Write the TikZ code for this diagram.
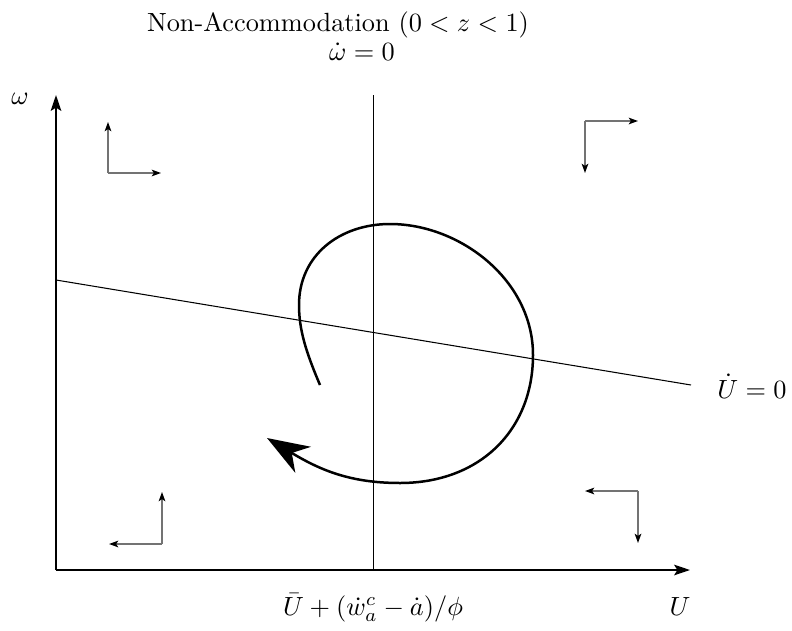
\documentclass[tikz,border=0pt]{standalone}
\usetikzlibrary{arrows.meta}
\begin{document}
\begin{tikzpicture}[x=0.38pt,y=-0.38pt,
  axis/.style={line width=0.8pt,-{Stealth[length=6pt,width=4pt,inset=1.2pt]}},
  thinline/.style={line width=0.4pt},
  flow/.style={draw=black!55,line width=0.55pt,-{Stealth[length=3.5pt,width=2.5pt,inset=0.8pt,color=black]}},
  orbit/.style={line width=0.95pt,-{Stealth[length=16pt,width=11.5pt,inset=5pt]}},
  lbl/.style={inner sep=0pt,anchor=base}]
\useasboundingbox (0,0) rectangle (792,630);
% axes
\coordinate (O) at (56,570);
\coordinate (Ytop) at (56,95);
\coordinate (Xend) at (690,570);
\draw[axis] (O) -- (Ytop);
\draw[axis] (O) -- (Xend);
% nullclines
\coordinate (Vtop) at (373.4,95);
\coordinate (Vbot) at (373.4,570);
\draw[thinline] (Vtop) -- (Vbot);
\coordinate (Dl) at (56,280);
\coordinate (Dr) at (691,385);
\draw[thinline] (Dl) -- (Dr);
% labels
\node[lbl] (title) at (338,31) {Non-Accommodation $(0<z<1)$};
\node[lbl] (wdot) at (362,60) {$\dot\omega=0$};
\node[lbl] (wlab) at (20,104) {$\omega$};
\node[lbl] (udot) at (752,398) {$\dot U=0$};
\node[lbl] (ulab) at (680,615) {$U$};
\node[lbl] (ubar) at (373,615) {$\bar U+(\dot w_a^c-\dot a)/\phi$};
% direction arrows
\coordinate (c1) at (108,173);
\coordinate (c1u) at (108,122);
\coordinate (c1r) at (161,173);
\draw[flow] (c1) -- (c1u);
\draw[flow] (c1) -- (c1r);
\coordinate (c2) at (585,121);
\coordinate (c2r) at (638,121);
\coordinate (c2d) at (585,173);
\draw[flow] (c2) -- (c2r);
\draw[flow] (c2) -- (c2d);
\coordinate (c3) at (162,544);
\coordinate (c3u) at (162,492);
\coordinate (c3l) at (109,544);
\draw[flow] (c3) -- (c3u);
\draw[flow] (c3) -- (c3l);
\coordinate (c4) at (638,491);
\coordinate (c4l) at (585,491);
\coordinate (c4d) at (638,543);
\draw[flow] (c4) -- (c4l);
\draw[flow] (c4) -- (c4d);
% spiral trajectory
\coordinate (s0) at (320,385);
\coordinate (s1) at (299,305);
\coordinate (s2) at (390,224);
\coordinate (s3) at (533,355);
\coordinate (s4) at (400,483);
\coordinate (s5) at (267,438);
\draw[orbit] (s0) .. controls (306,352) and (299,330) .. (s1)
  .. controls (299,255) and (340,224) .. (s2)
  .. controls (460,224) and (533,280) .. (s3)
  .. controls (533,430) and (480,483) .. (s4)
  .. controls (350,483) and (320,470) .. (s5);
\end{tikzpicture}
\end{document}
